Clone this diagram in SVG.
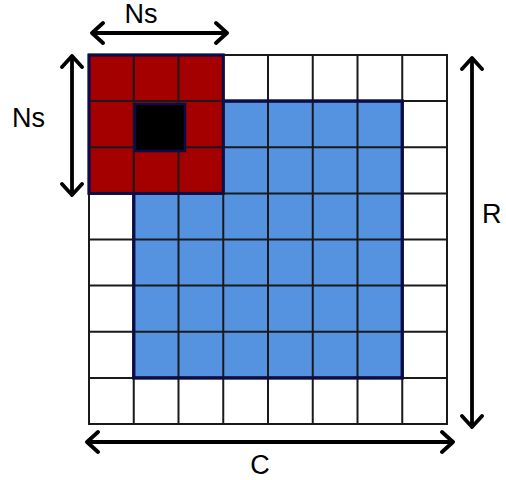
<svg xmlns="http://www.w3.org/2000/svg" width="506" height="480" viewBox="0 0 506 480">
<style>
.grid{stroke:#1a1a1a;stroke-width:2;fill:none}
.block{stroke:#0c0c48;stroke-width:3}
.arrow{stroke:#000;stroke-width:3.8;fill:none;marker-start:url(#chev);marker-end:url(#chev)}
.lbl{font-family:"Liberation Sans",Arial,sans-serif;font-size:27px;fill:#000}
</style>
<defs>
<marker id="chev" markerUnits="userSpaceOnUse" viewBox="-14 -13 16 26" markerWidth="16" markerHeight="26" refX="0" refY="0" orient="auto-start-reverse">
<path d="M-11,-10 L0,0 L-11,10" fill="none" stroke="#000" stroke-width="3.8" stroke-linecap="round" stroke-linejoin="round"/>
</marker>
</defs>
<rect width="506" height="480" fill="#fff"/>
<g id="blue-block"><rect class="block" x="133.75" y="101.1" width="268.5" height="276.75" fill="#5592e0"/></g>
<g id="red-block"><rect class="block" x="89" y="55" width="134.25" height="138.4" fill="#a50000"/></g>
<g id="grid" class="grid">
<rect x="89" y="55" width="358" height="369"/>
<path d="M133.75,55V424M178.5,55V424M223.25,55V424M268,55V424M312.75,55V424M357.5,55V424M402.25,55V424"/>
<path d="M89,101.1H447M89,147.25H447M89,193.4H447M89,239.5H447M89,285.6H447M89,331.75H447M89,377.9H447"/>
</g>
<g id="blue-outline"><path d="M133.75,193.4V377.9H402.25V101.1H223.25" fill="none" stroke="#0c0c48" stroke-width="3"/></g>
<g id="red-outline"><rect x="89" y="55" width="134.25" height="138.4" fill="none" stroke="#0c0c48" stroke-width="2.5"/></g>
<g id="black-cell"><rect x="135" y="104" width="50" height="47" fill="#000" stroke="#0c0c48" stroke-width="2.5"/></g>
<g id="connectors">
<line class="arrow" x1="92" y1="33" x2="227" y2="33"/>
<line class="arrow" x1="72" y1="56" x2="72" y2="195"/>
<line class="arrow" x1="472" y1="58" x2="472" y2="427"/>
<line class="arrow" x1="87" y1="442" x2="453" y2="442"/>
</g>
<g id="labels">
<text class="lbl" x="141" y="23" text-anchor="middle">Ns</text>
<text class="lbl" x="12" y="127">Ns</text>
<text class="lbl" x="482" y="223">R</text>
<text class="lbl" x="260" y="474" text-anchor="middle">C</text>
</g>
</svg>
